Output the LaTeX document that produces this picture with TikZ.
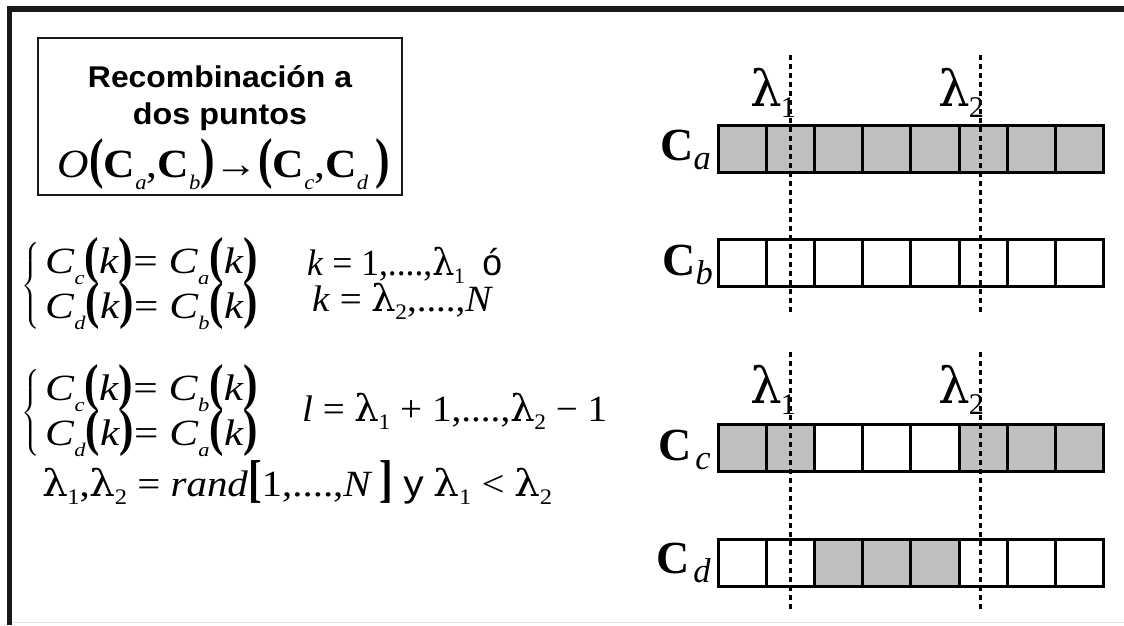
\documentclass[tikz,border=0pt]{standalone}
\usepackage{amsmath}
\usepackage{fontspec}
\setmainfont{Liberation Serif}
\newfontfamily\arial{Liberation Sans}
\newfontfamily\grk{DejaVu Serif}
\definecolor{cellgray}{gray}{0.75}
\definecolor{frame}{gray}{0.1}
\newcommand{\fitw}[2]{\resizebox{#1}{\height}{#2}}
\newcommand{\LP}{\scalebox{1}[1.4]{\textbf{(}}}
\newcommand{\RP}{\scalebox{1}[1.4]{\textbf{)}}}
\newcommand{\LB}{\scalebox{1}[1.4]{\textbf{[}}}
\newcommand{\RB}{\scalebox{1}[1.4]{\textbf{]}}}
\newcommand{\sub}[1]{\raisebox{-0.3em}{\scalebox{0.52}{#1}}}
\newcommand{\lam}[1]{{\grk λ}\kern-0.02em\raisebox{-0.22em}{\scalebox{0.6}{#1}}}
\tikzset{
  cell/.style={draw=black, line width=3pt, minimum width=48.1pt, minimum height=47pt, inner sep=0pt, anchor=north west},
  on/.style={cell, fill=cellgray},
  off/.style={cell, fill=white},
  cut/.style={line width=3pt, dash pattern=on 5pt off 4pt},
  eq/.style={inner sep=0pt, anchor=base west, font=\fontsize{37}{42}\selectfont},
  brace/.style={inner sep=0pt, font=\fontsize{20}{24}\selectfont},
  lab/.style={inner sep=0pt, anchor=base east, font=\fontsize{46}{50}\selectfont},
  lamlab/.style={inner sep=0pt, anchor=base west, font=\fontsize{50}{54}\selectfont},
}
\begin{document}
\begin{tikzpicture}[x=1pt, y=-1pt]
\useasboundingbox (0,0) rectangle (1124,625);
% outer frame
\coordinate (ftr) at (1124,9);
\coordinate (ftl) at (9.5,9);
\coordinate (fbl) at (9.5,625);
\draw[frame, line width=5.5pt, line join=miter] (ftr) -- (ftl) -- (fbl);
\coordinate (gl) at (12,622.5);
\coordinate (gr) at (1124,622.5);
\draw[gray!20, line width=1.5pt] (gl) -- (gr);

% title box
\node[draw=frame, line width=2.2pt, minimum width=364pt, minimum height=157pt, inner sep=0pt] (title) at (220,116.5) {};
\node[inner sep=0pt, anchor=base] (t1) at (220,87) {\arial\bfseries\fontsize{30}{34}\selectfont\fitw{264pt}{Recombinación a}};
\node[inner sep=0pt, anchor=base] (t2) at (220,124) {\arial\bfseries\fontsize{30}{34}\selectfont\fitw{174pt}{dos puntos}};
\node[inner sep=0pt, anchor=base, font=\fontsize{40}{44}\selectfont] (t3) at (224,177) {\fitw{332pt}{\textit{O}\LP\textbf{C}\sub{\textit{a}},\textbf{C}\sub{\textit{b}}\RP→\LP\textbf{C}\sub{\textit{c}},\textbf{C}\sub{\textit{d}}\,\RP}};

% first system
\node[brace] (br1) at (31,286) {$\left\{\vcenter{\hbox{\rule{0pt}{92pt}}}\right.$};
\node[eq] (s1a) at (45,273) {\fitw{213pt}{\textit{C}\sub{\textit{c}}\LP\textit{k}\RP= \textit{C}\sub{\textit{a}}\LP\textit{k}\RP}};
\node[eq] (s1b) at (45,318) {\fitw{213pt}{\textit{C}\sub{\textit{d}}\LP\textit{k}\RP= \textit{C}\sub{\textit{b}}\LP\textit{k}\RP}};
\node[eq] (r1) at (307,275) {\fitw{195pt}{\textit{k} = 1,....,\lam{1}\ \ {\arial ó}}};
\node[eq] (r2) at (312,311) {\fitw{181pt}{\textit{k} = \lam{2},....,\textit{N}}};

% second system
\node[brace] (br2) at (31,413) {$\left\{\vcenter{\hbox{\rule{0pt}{92pt}}}\right.$};
\node[eq] (s2a) at (45,400) {\fitw{213pt}{\textit{C}\sub{\textit{c}}\LP\textit{k}\RP= \textit{C}\sub{\textit{b}}\LP\textit{k}\RP}};
\node[eq] (s2b) at (45,445) {\fitw{213pt}{\textit{C}\sub{\textit{d}}\LP\textit{k}\RP= \textit{C}\sub{\textit{a}}\LP\textit{k}\RP}};
\node[eq] (r3) at (302,421) {\fitw{305pt}{\textit{l} = \lam{1} + 1,....,\lam{2} − 1}};

% parameters
\node[eq] (r4) at (42,496) {\fitw{510pt}{\lam{1},\lam{2} = \textit{rand}\LB 1,....,\textit{N}\,\RB\ {\arial y}\ \lam{1} < \lam{2}}};

% chromosomes
\foreach \i in {1,...,8} {
  \node[on] (a\i) at ({717+(\i-1)*48.1},124) {};
  \node[off] (b\i) at ({717+(\i-1)*48.1},238) {};
}
\foreach \i/\s in {1/on,2/on,3/off,4/off,5/off,6/on,7/on,8/on} {
  \node[\s] (c\i) at ({717+(\i-1)*48.1},423) {};
}
\foreach \i/\s in {1/off,2/off,3/on,4/on,5/on,6/off,7/off,8/off} {
  \node[\s] (d\i) at ({717+(\i-1)*48.1},538) {};
}

% labels
\node[lab] (la) at (711,160) {\textbf{C}\raisebox{-0.2em}{\scalebox{0.75}{\textit{a}}}};
\node[lab] (lb) at (713,275) {\textbf{C}\raisebox{-0.2em}{\scalebox{0.75}{\textit{b}}}};
\node[lab] (lc) at (711,460) {\textbf{C}\kern0.08em\raisebox{-0.2em}{\scalebox{0.75}{\textit{c}}}};
\node[lab] (ld) at (711,573) {\textbf{C}\kern0.08em\raisebox{-0.2em}{\scalebox{0.75}{\textit{d}}}};
\node[lamlab] (l1u) at (750,106) {\lam{1}};
\node[lamlab] (l2u) at (938,106) {\lam{2}};
\node[lamlab] (l1d) at (750,403) {\lam{1}};
\node[lamlab] (l2d) at (938,403) {\lam{2}};

% cut lines
\coordinate (u1t) at (790,55); \coordinate (u1b) at (790,315);
\coordinate (u2t) at (980,55); \coordinate (u2b) at (980,315);
\coordinate (d1t) at (790,352); \coordinate (d1b) at (790,612);
\coordinate (d2t) at (980,352); \coordinate (d2b) at (980,612);
\draw[cut] (u1t) -- (u1b);
\draw[cut] (u2t) -- (u2b);
\draw[cut] (d1t) -- (d1b);
\draw[cut] (d2t) -- (d2b);
\end{tikzpicture}
\end{document}
